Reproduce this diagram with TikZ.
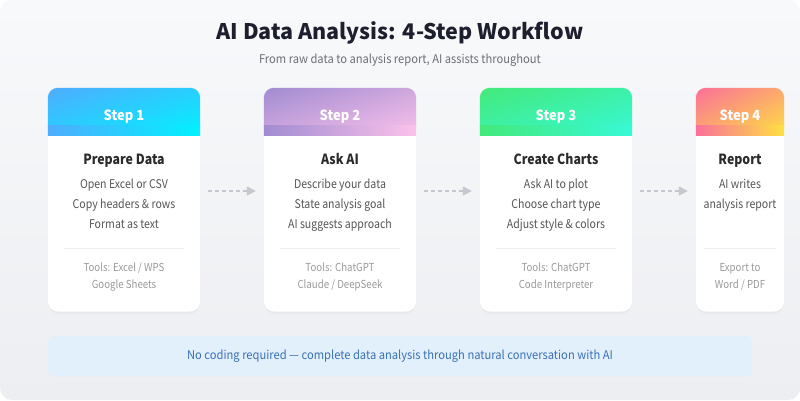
\documentclass[tikz,border=0pt]{standalone}
\usepackage{fontspec}
\setmainfont{Noto Sans CJK SC}
\newfontfamily\narrowfont[FakeStretch=0.88]{Noto Sans CJK SC}
\newfontfamily\midfont[FakeStretch=0.93]{Noto Sans CJK SC}
\usepackage{xcolor}
\usepackage{tikz}
\usetikzlibrary{arrows.meta,shadows,shadings,positioning}

\definecolor{bgtop}{HTML}{F8F9FB}
\definecolor{bgbot}{HTML}{ECEEF1}
\definecolor{titlecol}{HTML}{1E1F2E}
\definecolor{subcol}{HTML}{6B6E75}
\definecolor{headcol}{HTML}{2B2B2B}
\definecolor{linecol}{HTML}{555555}
\definecolor{toolcol}{HTML}{9A9A9A}
\definecolor{sepcol}{HTML}{EEEEEE}
\definecolor{arrowcol}{HTML}{C5C7CE}
\definecolor{notefill}{HTML}{E2F0FC}
\definecolor{notetext}{HTML}{3A70B5}
\definecolor{oneA}{HTML}{4FACFE}
\definecolor{oneB}{HTML}{00F2FE}
\definecolor{twoA}{HTML}{A18CD1}
\definecolor{twoB}{HTML}{FBC2EB}
\definecolor{threeA}{HTML}{43E97B}
\definecolor{threeB}{HTML}{38F9D7}
\definecolor{fourA}{HTML}{FA709A}
\definecolor{fourB}{HTML}{FEE140}

\tikzset{
	card/.style={rectangle, rounded corners=10pt, fill=white, minimum height=223.5pt, inner sep=0pt,
		drop shadow={opacity=0.06, shadow xshift=0pt, shadow yshift=-2pt}},
	steptxt/.style={anchor=base, text=white, font=\midfont\bfseries\fontsize{14}{16}\selectfont},
	cardtitle/.style={anchor=base, text=headcol, font=\narrowfont\bfseries\fontsize{14}{16}\selectfont},
	item/.style={anchor=base, text=linecol, font=\narrowfont\fontsize{12}{14}\selectfont},
	tool/.style={anchor=base, text=toolcol, font=\narrowfont\fontsize{11}{13}\selectfont},
	sepline/.style={draw=sepcol, line width=1pt},
	flow/.style={draw=arrowcol, line width=1.5pt, dash pattern=on 4pt off 3pt,
		-{Triangle[length=9pt,width=9pt]}, shorten <=8pt, shorten >=8pt},
}

\begin{document}
\begin{tikzpicture}[x=1pt,y=-1pt]
	\useasboundingbox (0,0) rectangle (800,400);
	\fill[white] (0,0) rectangle (800,400);
	\shade[top color=bgtop, bottom color=bgbot, rounded corners=12pt] (0,0) rectangle (800,400);

	% title
	\node[anchor=base, text=titlecol, font=\bfseries\fontsize{21.5}{26}\selectfont] (title) at (400,39) {AI Data Analysis: 4-Step Workflow};
	\node[anchor=base, text=subcol, font=\midfont\fontsize{12}{15}\selectfont] (subtitle) at (400,63) {From raw data to analysis report, AI assists throughout};

	% cards
	\node[card, minimum width=152pt] (c1) at (124,199.75) {};
	\node[card, minimum width=152pt] (c2) at (340,199.75) {};
	\node[card, minimum width=152pt] (c3) at (556,199.75) {};
	\node[card, minimum width=88pt] (c4) at (740,199.75) {};

	% headers
	\shade[upper left=oneA, lower right=oneB, upper right=oneA!50!oneB, lower left=oneA!50!oneB, rounded corners=10pt] (c1.north west) rectangle ([yshift=-48pt]c1.north east);
	\shade[left color=oneA, right color=oneB] ([yshift=-38pt]c1.north west) rectangle ([yshift=-48pt]c1.north east);
	\shade[upper left=twoA, lower right=twoB, upper right=twoA!50!twoB, lower left=twoA!50!twoB, rounded corners=10pt] (c2.north west) rectangle ([yshift=-48pt]c2.north east);
	\shade[left color=twoA, right color=twoB] ([yshift=-38pt]c2.north west) rectangle ([yshift=-48pt]c2.north east);
	\shade[upper left=threeA, lower right=threeB, upper right=threeA!50!threeB, lower left=threeA!50!threeB, rounded corners=10pt] (c3.north west) rectangle ([yshift=-48pt]c3.north east);
	\shade[left color=threeA, right color=threeB] ([yshift=-38pt]c3.north west) rectangle ([yshift=-48pt]c3.north east);
	\shade[upper left=fourA, lower right=fourB, upper right=fourA!50!fourB, lower left=fourA!50!fourB, rounded corners=10pt] (c4.north west) rectangle ([yshift=-48pt]c4.north east);
	\shade[left color=fourA, right color=fourB] ([yshift=-38pt]c4.north west) rectangle ([yshift=-48pt]c4.north east);

	% step 1
	\node[steptxt] (s1) at (124,120) {Step 1};
	\node[cardtitle] (t1) at (124,164) {Prepare Data};
	\node[item] (a1) at (124,188) {Open Excel or CSV};
	\node[item] (b1) at (124,208) {Copy headers \& rows};
	\node[item] (d1) at (124,228) {Format as text};
	\draw[sepline] (64,248) -- (184,248);
	\node[tool] (u1) at (124,271) {Tools: Excel / WPS};
	\node[tool] (v1) at (124,288) {Google Sheets};

	% step 2
	\node[steptxt] (s2) at (340,120) {Step 2};
	\node[cardtitle] (t2) at (340,164) {Ask AI};
	\node[item] (a2) at (340,188) {Describe your data};
	\node[item] (b2) at (340,208) {State analysis goal};
	\node[item] (d2) at (340,228) {AI suggests approach};
	\draw[sepline] (280,248) -- (400,248);
	\node[tool] (u2) at (340,271) {Tools: ChatGPT};
	\node[tool] (v2) at (340,288) {Claude / DeepSeek};

	% step 3
	\node[steptxt] (s3) at (556,120) {Step 3};
	\node[cardtitle] (t3) at (556,164) {Create Charts};
	\node[item] (a3) at (556,188) {Ask AI to plot};
	\node[item] (b3) at (556,208) {Choose chart type};
	\node[item] (d3) at (556,228) {Adjust style \& colors};
	\draw[sepline] (496,248) -- (616,248);
	\node[tool] (u3) at (556,271) {Tools: ChatGPT};
	\node[tool] (v3) at (556,288) {Code Interpreter};

	% step 4
	\node[steptxt] (s4) at (740,120) {Step 4};
	\node[cardtitle] (t4) at (740,164) {Report};
	\node[item] (a4) at (740,188) {AI writes};
	\node[item] (b4) at (740,208) {analysis report};
	\draw[sepline] (704,248) -- (776,248);
	\node[tool] (u4) at (740,271) {Export to};
	\node[tool] (v4) at (740,288) {Word / PDF};

	% arrows
	\draw[flow] ([yshift=8.75pt]c1.east) -- ([yshift=8.75pt]c2.west);
	\draw[flow] ([yshift=8.75pt]c2.east) -- ([yshift=8.75pt]c3.west);
	\draw[flow] ([yshift=8.75pt]c3.east) -- ([yshift=8.75pt]c4.west);

	% note
	\node[rectangle, rounded corners=6pt, fill=notefill, minimum width=704pt, minimum height=40pt, inner sep=0pt,
		text=notetext, font=\midfont\fontsize{12}{14}\selectfont] (note) at (400,356) {No coding required — complete data analysis through natural conversation with AI};
\end{tikzpicture}
\end{document}
